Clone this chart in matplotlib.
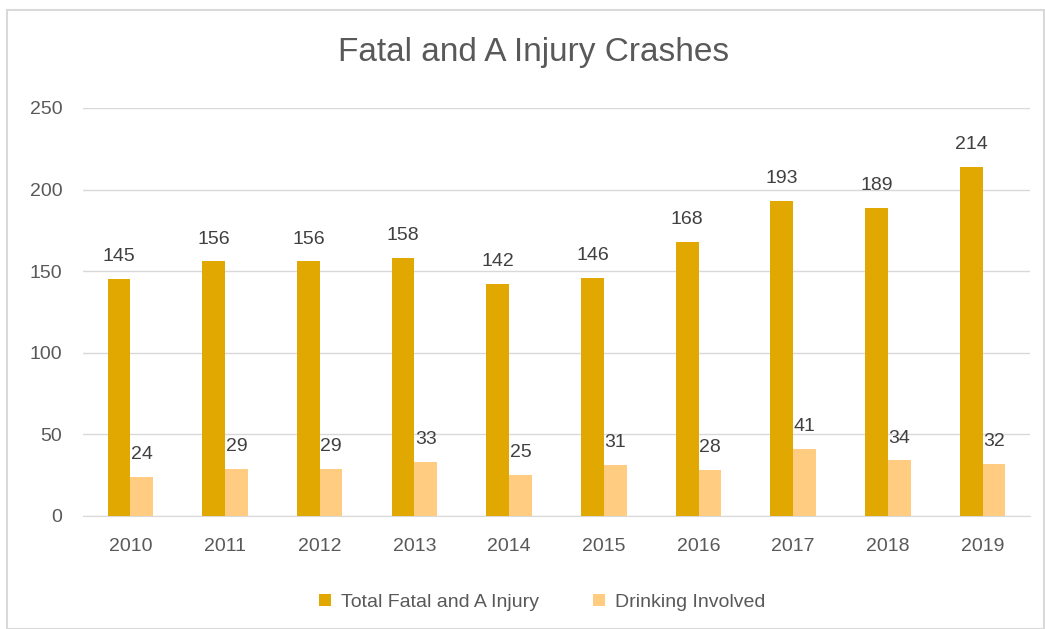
import numpy as np
import matplotlib
matplotlib.use('Agg')
import matplotlib.pyplot as plt
from matplotlib.patches import Rectangle

years = ['2010', '2011', '2012', '2013', '2014', '2015', '2016', '2017', '2018', '2019']
total_fatal_a = [145, 156, 156, 158, 142, 146, 168, 193, 189, 214]
drinking = [24, 29, 29, 33, 25, 31, 28, 41, 34, 32]

dark = '#E0A800'
light = '#FFCC82'
txt = '#404040'
tick_col = '#595959'

plt.rcParams['font.family'] = ['Liberation Sans', 'DejaVu Sans']

fig = plt.figure(figsize=(10.45, 6.29), dpi=100)
ax = fig.add_axes([0.0794, 0.1797, 0.9062, 0.6486])

x = np.arange(len(years))
w = 0.24
b1 = ax.bar(x - w / 2, total_fatal_a, w, color=dark, label='Total Fatal and A Injury', zorder=3)
b2 = ax.bar(x + w / 2, drinking, w, color=light, label='Drinking Involved', zorder=3)

for rect, v in zip(b1, total_fatal_a):
    ax.annotate(str(v), (rect.get_x() + rect.get_width() / 2, v), xytext=(0, 10),
                textcoords='offset points', ha='center', va='bottom', fontsize=14, color=txt)
for rect, v in zip(b2, drinking):
    ax.annotate(str(v), (rect.get_x() + rect.get_width() / 2, v), xytext=(0, 10),
                textcoords='offset points', ha='center', va='bottom', fontsize=14, color=txt)

ax.set_xlim(-0.5, len(years) - 0.5)
ax.set_ylim(0, 250)
ax.set_yticks(range(0, 251, 50))
ax.set_xticks(x)
ax.set_xticklabels(years)
ax.tick_params(axis='both', length=0, labelsize=14, colors=tick_col)
ax.tick_params(axis='x', pad=16)
ax.tick_params(axis='y', pad=15)
ax.grid(axis='y', color='#D9D9D9', linewidth=1, zorder=0)
for s in ['top', 'right', 'left']:
    ax.spines[s].set_visible(False)
ax.spines['bottom'].set_color('#D9D9D9')

fig.text(0.511, 0.917, 'Fatal and A Injury Crashes', ha='center', va='center',
         fontsize=24, color=tick_col)

ax.legend(loc='upper center', bbox_to_anchor=(0.485, -0.148), ncol=2, frameon=False,
          fontsize=14, handlelength=0.6, handleheight=0.6, columnspacing=2.8,
          handletextpad=0.5, labelcolor=tick_col)

fig.patches.append(Rectangle((0.007, 0.0), 0.992, 0.984, transform=fig.transFigure,
                             fill=False, edgecolor='#D9D9D9', linewidth=1.5))

plt.savefig('out.png', dpi=100)
